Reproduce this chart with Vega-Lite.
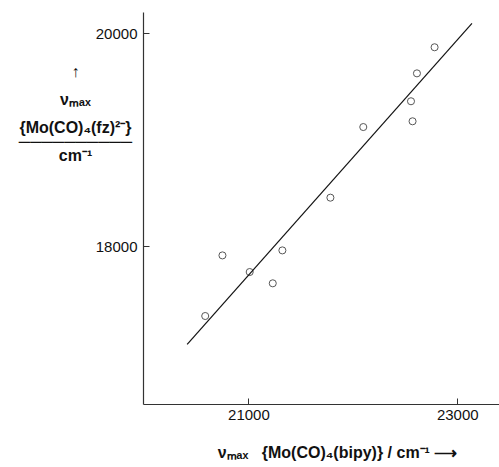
{
  "$schema": "https://vega.github.io/schema/vega-lite/v6.json",
  "width": 356,
  "height": 392,
  "autosize": {"type": "none"},
  "padding": {"left": 143, "top": 12, "right": 0, "bottom": 63},
  "background": "white",
  "config": {
    "view": {"stroke": null},
    "font": "Liberation Sans",
    "axis": {
      "domainColor": "#333",
      "domainWidth": 1.2,
      "tickColor": "#333",
      "tickSize": -6,
      "grid": false,
      "labelFont": "Liberation Sans",
      "labelFontSize": 15,
      "labelColor": "#111",
      "titleFont": "Liberation Sans",
      "titleFontSize": 16,
      "titleFontWeight": "bold",
      "titleColor": "#111"
    }
  },
  "datasets": {
    "points": [
      {"x": 20586, "y": 17346},
      {"x": 20751, "y": 17915},
      {"x": 21012, "y": 17759},
      {"x": 21325, "y": 17962},
      {"x": 21233, "y": 17653},
      {"x": 21785, "y": 18457},
      {"x": 22100, "y": 19120},
      {"x": 22572, "y": 19174},
      {"x": 22557, "y": 19362},
      {"x": 22614, "y": 19624},
      {"x": 22783, "y": 19869}
    ],
    "fit": [
      {"x": 20413, "y": 17080},
      {"x": 23141, "y": 20094}
    ]
  },
  "layer": [
    {
      "data": {"name": "fit"},
      "mark": {"type": "line", "color": "#111", "strokeWidth": 1.2},
      "encoding": {
        "x": {"field": "x", "type": "quantitative"},
        "y": {"field": "y", "type": "quantitative"}
      }
    },
    {
      "data": {"name": "points"},
      "mark": {"type": "point", "shape": "circle", "filled": false, "color": "#111", "strokeWidth": 1, "size": 50},
      "encoding": {
        "x": {
          "field": "x", "type": "quantitative",
          "scale": {"domain": [19990, 23400], "nice": false, "zero": false},
          "axis": {
            "values": [21000, 23000],
            "format": "d",
            "labelPadding": 9,
            "title": "νₘₐₓ\u00a0\u00a0\u00a0{Mo(CO)₄(bipy)}\u00a0/\u00a0cm⁻¹\u00a0⟶",
            "titleX": 194,
            "titleY": 48,
            "titleBaseline": "middle",
            "titleAlign": "center"
          }
        },
        "y": {
          "field": "y", "type": "quantitative",
          "scale": {"domain": [16520, 20200], "nice": false, "zero": false},
          "axis": {
            "values": [18000, 20000],
            "format": "d",
            "labelPadding": 12,
            "title": ["↑", "\u200b", "νₘₐₓ", "\u200b", "{Mo(CO)₄(fz)²⁻}", "──────────", "cm⁻¹"],
            "titleAngle": 0,
            "titleAlign": "center",
            "titleBaseline": "top",
            "titleLineHeight": 14,
            "titleX": -68,
            "titleY": 51
          }
        }
      }
    }
  ]
}
